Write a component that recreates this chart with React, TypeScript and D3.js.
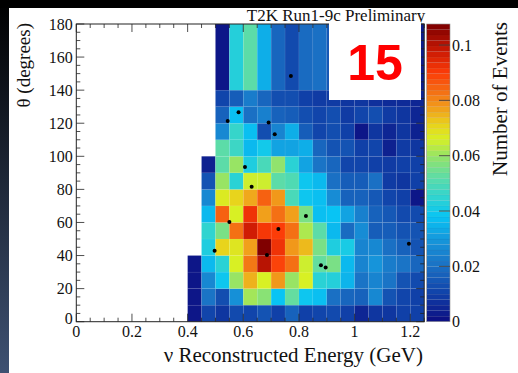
import React from 'react';
import * as d3 from 'd3';

// bin edges of the 2D histogram
const energyEdges = [0.4, 0.45, 0.5, 0.55, 0.6, 0.65, 0.7, 0.75, 0.8, 0.85, 0.9, 0.95, 1.0, 1.05, 1.1, 1.15, 1.2, 1.25];
const thetaEdges = [0, 10, 20, 30, 40, 50, 60, 70, 80, 90, 100, 110, 120, 130, 140, 180];

// predicted number of events, one row per theta bin (bottom to top), null = empty bin
const eventsPerBin: (number | null)[][] = [
  [0.002, 0.011, 0.008, 0.012, 0.011, 0.014, 0.010, 0.017, 0.010, 0.011, 0.012, 0.010, 0.005, 0.008, 0.008, 0.010, 0.010],
  [0.002, 0.021, 0.013, 0.028, 0.061, 0.058, 0.038, 0.053, 0.039, 0.037, 0.020, 0.018, 0.017, 0.026, 0.014, 0.011, 0.010],
  [0.002, 0.026, 0.039, 0.060, 0.075, 0.066, 0.078, 0.060, 0.066, 0.044, 0.043, 0.035, 0.021, 0.025, 0.021, 0.014, 0.012],
  [0.002, 0.036, 0.044, 0.066, 0.082, 0.100, 0.089, 0.083, 0.065, 0.053, 0.056, 0.036, 0.025, 0.029, 0.023, 0.021, 0.018],
  [null, 0.042, 0.071, 0.068, 0.077, 0.107, 0.092, 0.078, 0.074, 0.056, 0.042, 0.041, 0.025, 0.026, 0.020, 0.017, 0.014],
  [null, 0.045, 0.056, 0.083, 0.097, 0.091, 0.090, 0.083, 0.062, 0.052, 0.036, 0.019, 0.027, 0.016, 0.016, 0.014, 0.014],
  [null, 0.036, 0.085, 0.066, 0.092, 0.077, 0.083, 0.077, 0.056, 0.037, 0.038, 0.032, 0.024, 0.017, 0.015, 0.012, 0.012],
  [null, 0.026, 0.067, 0.071, 0.076, 0.085, 0.078, 0.049, 0.039, 0.037, 0.027, 0.017, 0.017, 0.015, 0.011, 0.010, 0.002],
  [null, 0.014, 0.060, 0.044, 0.065, 0.065, 0.052, 0.050, 0.039, 0.036, 0.020, 0.016, 0.016, 0.020, 0.009, 0.008, 0.010],
  [null, 0.004, 0.052, 0.060, 0.042, 0.049, 0.059, 0.044, 0.032, 0.021, 0.018, 0.011, 0.011, 0.010, 0.009, 0.010, 0.010],
  [null, null, 0.052, 0.047, 0.036, 0.040, 0.032, 0.032, 0.034, 0.018, 0.014, 0.014, 0.010, 0.011, 0.004, 0.009, 0.008],
  [null, null, 0.026, 0.046, 0.037, 0.013, 0.025, 0.034, 0.016, 0.011, 0.013, 0.010, 0.002, 0.008, 0.005, 0.008, 0.004],
  [null, null, 0.017, 0.037, 0.020, 0.024, 0.017, 0.016, 0.013, 0.011, 0.013, 0.009, 0.011, 0.013, 0.009, 0.008, 0.005],
  [null, null, 0.011, 0.016, 0.023, 0.018, 0.013, 0.013, 0.010, 0.009, 0.009, 0.008, 0.008, 0.007, 0.006, 0.006, 0.005],
  [null, null, 0.002, 0.043, 0.052, 0.034, 0.018, 0.012, 0.019, 0.020, 0.015, 0.012, 0.010, 0.008, 0.006, 0.005, 0.003],
];

// observed events: [reconstructed energy GeV, theta degrees]
const observedEvents = [
  [0.771, 148.5], [0.583, 126.6], [0.544, 121.3], [0.691, 120.5], [0.713, 113.3],
  [0.606, 93.5], [0.630, 81.6], [0.825, 63.9], [0.550, 60.3], [0.726, 56.0],
  [0.497, 42.9], [0.685, 40.3], [0.879, 34.1], [0.896, 32.7], [1.195, 47.2],
];

const xTicks = [0, 0.2, 0.4, 0.6, 0.8, 1, 1.2];
const yTicks = [0, 20, 40, 60, 80, 100, 120, 140, 160, 180];
const zTicks = [0, 0.02, 0.04, 0.06, 0.08, 0.1];
const zMax = 0.1076;

const paletteValues = [0, 0.01, 0.02, 0.03, 0.038, 0.045, 0.052, 0.06, 0.066, 0.071, 0.076, 0.083, 0.09, 0.097, 0.107];
const paletteColors = ['#0c0c80', '#1040a8', '#1a70c4', '#1598dc', '#08c4f4', '#30d4d0', '#5cdca8', '#98e464',
  '#d8f024', '#e8d41c', '#f0a81c', '#f47014', '#fc3c08', '#d01c04', '#800000'];

const W = 518;
const H = 373;
const serif = '"Liberation Serif", "Times New Roman", serif';

export default function App() {
  const x = d3.scaleLinear().domain([0, 1.25]).range([76.3, 424.2]);
  const y = d3.scaleLinear().domain([0, 180]).range([321.7, 24]);
  const z = d3.scaleLinear().domain([0, zMax]).range([321.7, 24]);
  const color = d3.scaleLinear<string>().domain(paletteValues).range(paletteColors).clamp(true);

  const [x0, x1] = x.range();
  const [y0, y1] = y.range();
  const barX = 426.7;
  const barW = 23.3;

  const cells: { x: number; y: number; w: number; h: number; c: string }[] = [];
  eventsPerBin.forEach((row, j) => {
    row.forEach((v, i) => {
      if (v == null) return;
      cells.push({
        x: x(energyEdges[i]),
        y: y(thetaEdges[j + 1]),
        w: x(energyEdges[i + 1]) - x(energyEdges[i]),
        h: y(thetaEdges[j]) - y(thetaEdges[j + 1]),
        c: color(v),
      });
    });
  });

  const nBands = 54;
  const bands = d3.range(nBands).map(i => ({
    y0: z((i + 1) * zMax / nBands),
    y1: z(i * zMax / nBands),
    c: color((i + 0.5) * zMax / nBands),
  }));

  const xMinor = d3.range(0, 1.2501, 0.05);
  const yMinor = d3.range(0, 180.1, 5);
  const fmt = (t: number) => String(+t.toFixed(2));

  return (
    <svg width={W} height={H} style={{ position: 'absolute', left: 0, top: 0 }} fontFamily={serif}>
      <defs>
        <linearGradient id="side" x1="0" y1="0" x2="0" y2="1">
          <stop offset="0" stopColor="#000" />
          <stop offset="1" stopColor="#3e5172" />
        </linearGradient>
      </defs>
      <rect x={0} y={0} width={W} height={H} fill="#fff" />
      <rect x={0} y={0} width={9} height={H} fill="url(#side)" />
      <rect x={0} y={0} width={W} height={8} fill="#000" />

      {/* histogram cells */}
      {cells.map((d, i) => (
        <rect key={i} x={d.x} y={d.y} width={d.w} height={d.h} fill={d.c}
          stroke="rgba(255,255,255,0.1)" strokeWidth={0.5} />
      ))}

      {/* axis ticks */}
      <g stroke="#222" strokeWidth={0.8}>
        {xMinor.map((t, i) => {
          const major = Math.abs(t / 0.2 - Math.round(t / 0.2)) < 1e-6;
          const len = major ? 8 : 4;
          return (
            <g key={'x' + i}>
              <line x1={x(t)} x2={x(t)} y1={y0} y2={y0 - len} />
              <line x1={x(t)} x2={x(t)} y1={y1} y2={y1 + len} />
            </g>
          );
        })}
        {yMinor.map((t, i) => {
          const len = t % 20 === 0 ? 8 : 4;
          return (
            <g key={'y' + i}>
              <line x1={x0} x2={x0 + len} y1={y(t)} y2={y(t)} />
              <line x1={x1} x2={x1 - len} y1={y(t)} y2={y(t)} />
            </g>
          );
        })}
      </g>
      <rect x={x0} y={y1} width={x1 - x0} height={y0 - y1} fill="none" stroke="#222" strokeWidth={1} />

      {/* observed events */}
      {observedEvents.map((d, i) => (
        <circle key={i} cx={x(d[0])} cy={y(d[1])} r={2} fill="#000" />
      ))}

      {/* tick labels */}
      {xTicks.map(t => (
        <text key={t} x={x(t)} y={337} fontSize={16} textAnchor="middle" fill="#111">{fmt(t)}</text>
      ))}
      {yTicks.map(t => (
        <text key={t} x={72.7} y={t === 0 ? y(t) - 3 : y(t)} dy="0.35em" fontSize={16} textAnchor="end" fill="#111">{t}</text>
      ))}

      {/* colour bar */}
      {bands.map((b, i) => (
        <rect key={i} x={barX} y={b.y0} width={barW} height={b.y1 - b.y0} fill={b.c}
          stroke="rgba(0,0,0,0.08)" strokeWidth={0.4} />
      ))}
      <rect x={barX} y={z(zMax)} width={barW} height={z(0) - z(zMax)} fill="none" stroke="#999" strokeWidth={0.6} />
      <g stroke="#444" strokeWidth={0.9}>
        {zTicks.filter(t => t > 0).map(t => (
          <line key={t} x1={barX + barW} x2={barX + barW - 11} y1={z(t)} y2={z(t)} />
        ))}
      </g>
      {zTicks.map(t => (
        <text key={t} x={barX + barW + 2} y={z(t)} dy="0.35em" fontSize={16} fill="#111">{fmt(t)}</text>
      ))}

      {/* titles */}
      <text x={423} y={362} fontSize={21} textAnchor="end" fill="#111">ν Reconstructed Energy (GeV)</text>
      <text transform="translate(30,23) rotate(-90)" fontSize={19} textAnchor="end" fill="#111">θ (degrees)</text>
      <text transform="translate(507,22) rotate(-90)" fontSize={21} textAnchor="end" fill="#111">Number of Events</text>
      <text x={336} y={20.5} fontSize={17} textAnchor="middle" fill="#111">T2K Run1-9c Preliminary</text>

      {/* event count box */}
      <rect x={329} y={22} width={92} height={78} fill="#fff" />
      <text x={375} y={80} fontSize={50} fontWeight="bold" textAnchor="middle" fill="#ff0000"
        fontFamily='"Liberation Sans", Arial, sans-serif'>15</text>
    </svg>
  );
}
